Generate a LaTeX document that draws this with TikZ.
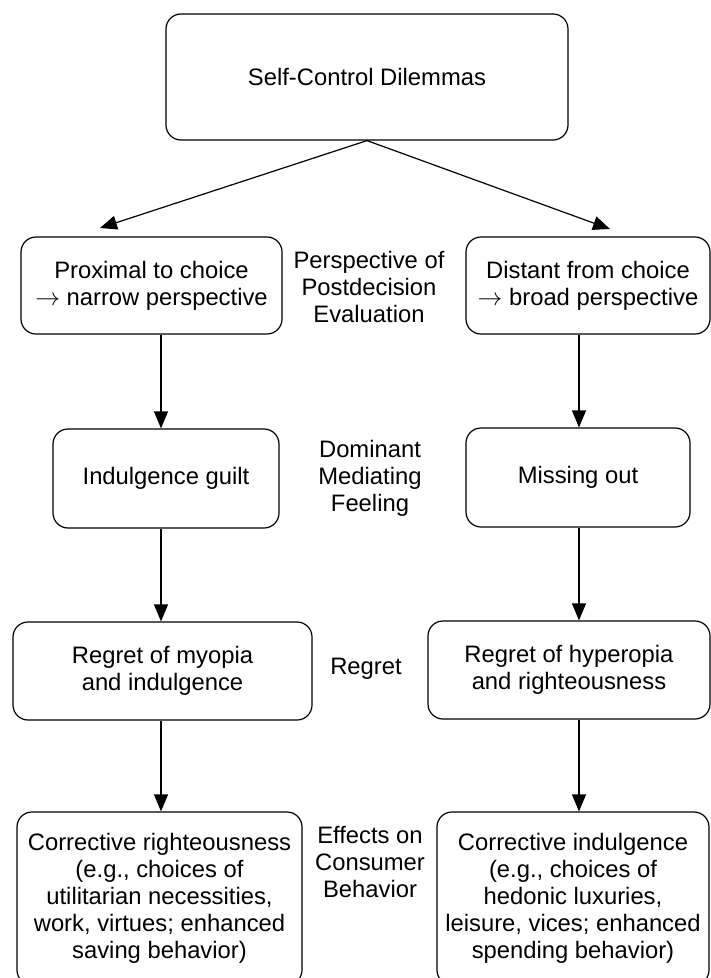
\documentclass[tikz,border=0pt]{standalone}
\usepackage{fontspec}
\setmainfont{Liberation Sans}
\usetikzlibrary{arrows.meta}
\begin{document}
\begin{tikzpicture}[x=1bp,y=-1bp,
  box/.style={draw, line width=1.2bp, rounded corners=15bp, align=center, inner sep=0pt,
    font=\fontsize{23.8bp}{27bp}\selectfont},
  lab/.style={align=center, inner sep=0pt, font=\fontsize{23.8bp}{27bp}\selectfont},
  arr/.style={line width=1.2bp, -{Triangle[length=17bp,width=14bp]}}]
\useasboundingbox (0,0) rectangle (711,978);
\node[box, minimum width=402bp, minimum height=126bp] (top) at (367,77) {Self-Control Dilemmas};
\node[box, minimum width=261bp, minimum height=97bp] (L1) at (151.5,285.5) {Proximal to choice\\$\rightarrow$ narrow perspective};
\node[box, minimum width=244bp, minimum height=97bp] (R1) at (588,285.5) {Distant from choice\\$\rightarrow$ broad perspective};
\node[box, minimum width=226bp, minimum height=99bp] (L2) at (166,478.5) {Indulgence guilt};
\node[box, minimum width=224bp, minimum height=99bp] (R2) at (578,477.5) {Missing out};
\node[box, minimum width=299bp, minimum height=98bp] (L3) at (162.5,671) {Regret of myopia\\and indulgence};
\node[box, minimum width=282bp, minimum height=98bp] (R3) at (569,670) {Regret of hyperopia\\and righteousness};
\node[box, minimum width=285bp, minimum height=173bp] (L4) at (159.5,898.5) {Corrective righteousness\\(e.g., choices of\\utilitarian necessities,\\work, virtues; enhanced\\saving behavior)};
\node[box, minimum width=272bp, minimum height=173bp] (R4) at (573,898.5) {Corrective indulgence\\(e.g., choices of\\hedonic luxuries,\\leisure, vices; enhanced\\spending behavior)};
\node[lab] (lab1) at (369,286.5) {Perspective of\\Postdecision\\Evaluation};
\node[lab] (lab2) at (370,478.5) {Dominant\\Mediating\\Feeling};
\node[lab] (lab3) at (366,668.5) {Regret};
\node[lab] (lab4) at (370,862) {Effects on\\Consumer\\Behavior};
\coordinate (tl) at (100,228);
\coordinate (tr) at (610,229);
\coordinate (lx) at (161,0);
\coordinate (rx) at (579,0);
\draw[arr] (top.south) -- (tl);
\draw[arr] (top.south) -- (tr);
\draw[arr] (L1.south -| lx) -- (L2.north -| lx);
\draw[arr] (R1.south -| rx) -- (R2.north -| rx);
\draw[arr] (L2.south -| lx) -- (L3.north -| lx);
\draw[arr] (R2.south -| rx) -- (R3.north -| rx);
\draw[arr] (L3.south -| lx) -- (L4.north -| lx);
\draw[arr] (R3.south -| rx) -- (R4.north -| rx);
\end{tikzpicture}
\end{document}
